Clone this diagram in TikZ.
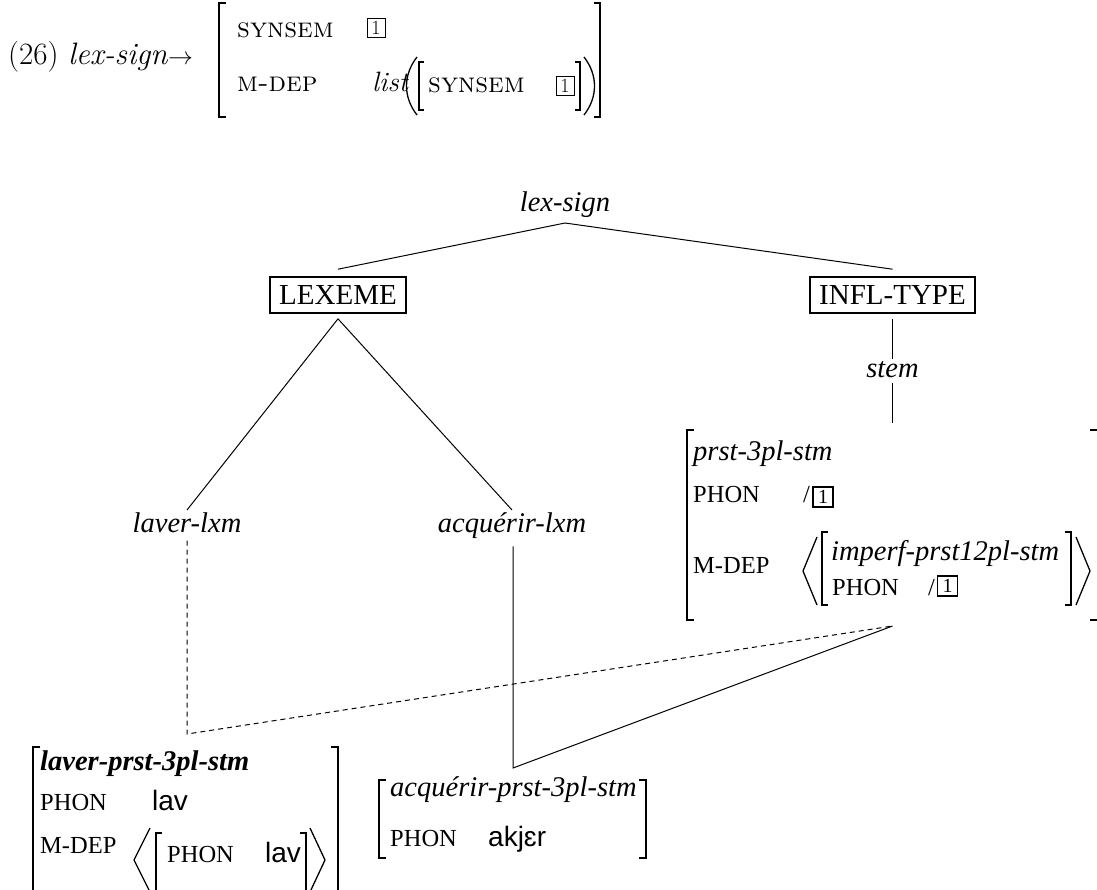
\documentclass[tikz,border=0pt]{standalone}
\usepackage{fontspec}
\newfontfamily\tms{Liberation Serif}
\newfontfamily\sns{Liberation Sans}
\usetikzlibrary{calc}
\tikzset{
  hd/.style={inner sep=0pt, font=\fontsize{28}{32}\selectfont},
  hdl/.style={inner sep=0pt, font=\fontsize{31}{34}\selectfont},
  lbl/.style={inner sep=2pt, font=\tms\fontsize{28.5}{32}\selectfont\itshape},
  typbox/.style={draw, line width=1.6pt, inner xsep=9pt, minimum height=36pt, text height=19pt, text depth=0pt, font=\tms\fontsize{29}{32}\selectfont},
  avmi/.style={inner sep=0pt, font=\tms\fontsize{28.5}{32}\selectfont\itshape},
  avmb/.style={inner sep=0pt, font=\tms\fontsize{28.5}{32}\selectfont\bfseries\itshape},
  feat/.style={inner sep=0pt, font=\tms\fontsize{24.5}{28}\selectfont},
  phon/.style={inner sep=0pt, font=\sns\fontsize{28}{32}\selectfont},
  tagt/.style={draw, line width=1.5pt, minimum width=20pt, minimum height=20pt, inner sep=0pt, font=\tms\fontsize{20}{22}\selectfont},
  tagh/.style={draw, line width=0.8pt, minimum width=18pt, minimum height=19pt, inner sep=0pt, font=\fontsize{20}{22}\selectfont},
  brk/.style={line width=1.3pt},
  conn/.style={line width=1pt},
  dconn/.style={line width=1pt, dash pattern=on 5pt off 4pt},
}
\begin{document}
\begin{tikzpicture}[x=1pt,y=-1pt]
\useasboundingbox[fill=white] (0,0) rectangle (1097,889);
% ---------- header (26)
\node[hdl, anchor=base west] (num) at (8,64) {(26)};
\node[hdl, anchor=base west] (ls) at (68,64) {\textit{lex-sign}$\rightarrow$};
\draw[brk] (226,3) -- (219,3) -- (219,117) -- (226,117);
\node[hd, anchor=base west] (syn1) at (237,37) {\textsc{synsem}};
\node[tagh] (t1) at (376,27.5) {1};
\node[hd, anchor=base west] (md1) at (237,91) {\textsc{m-dep}};
\node[hd, anchor=base west] (lst) at (372,91) {\textit{list}};
\draw[brk] (417,57) .. controls (403,75) and (403,97) .. (417,115);
\draw[brk] (424,62) -- (419,62) -- (419,110) -- (424,110);
\node[hd, anchor=base west] (syn2) at (428,92) {\textsc{synsem}};
\node[tagh] (t2) at (565,86) {1};
\draw[brk] (575,62) -- (580,62) -- (580,110) -- (575,110);
\draw[brk] (584,57) .. controls (598,75) and (598,97) .. (584,115);
\draw[brk] (594,3) -- (600,3) -- (600,117) -- (594,117);
% ---------- tree
\node[lbl, anchor=base] (lexsign) at (565,211) {lex-sign};
\node[typbox] (lexeme) at (338,295) {LEXEME};
\node[typbox] (infl) at (892.5,295) {INFL-TYPE};
\coordinate (apex) at (565,223);
\draw[conn] (apex) -- ($(lexeme.north)+(0,-7)$);
\draw[conn] (apex) -- ($(infl.north)+(0,-7)$);
\node[lbl, anchor=base] (laver) at (187,532) {laver-lxm};
\node[lbl, anchor=base] (acq) at (512,532) {acquérir-lxm};
\draw[conn] ($(lexeme.south)+(0,5)$) -- (laver.north);
\draw[conn] ($(lexeme.south)+(0,5)$) -- (acq.north);
\node[lbl, anchor=base] (stem) at (892.5,377) {stem};
\draw[conn] ($(infl.south)+(0,5)$) -- (stem.north);
\coordinate (rtop) at (892.5,423);
\coordinate (rbot) at (892.5,626);
\draw[conn] ($(stem.south)+(0,4)$) -- (rtop);
% ---------- right AVM
\draw[brk] (694,430) -- (687,430) -- (687,620) -- (694,620);
\node[avmi, anchor=base west] (r1) at (693,460) {prst-3pl-stm};
\node[feat, anchor=base west] (r2) at (693,502) {PHON};
\node[feat, anchor=base west] (r2s) at (803,502) {/};
\node[tagt] (r2t) at (823,497) {1};
\node[feat, anchor=base west] (r3) at (693,573) {M-DEP};
\draw[brk] (817,537) -- (803,571) -- (817,605);
\draw[brk] (828,532) -- (822,532) -- (822,605) -- (828,605);
\node[avmi, anchor=base west] (r4) at (831,560) {imperf-prst12pl-stm};
\node[feat, anchor=base west] (r5) at (832,595) {PHON};
\node[feat, anchor=base west] (r5s) at (928,595) {/};
\node[tagt] (r5t) at (947.5,586) {1};
\draw[brk] (1065,532) -- (1071,532) -- (1071,605) -- (1065,605);
\draw[brk] (1076,537) -- (1090,571) -- (1076,605);
\draw[brk] (1090,430) -- (1098,430) -- (1098,620) -- (1090,620);
% ---------- left AVM
\draw[brk] (40,747) -- (33,747) -- (33,895);
\node[avmb, anchor=base west] (l1) at (40,770) {laver-prst-3pl-stm};
\node[feat, anchor=base west] (l2) at (40,810) {PHON};
\node[phon, anchor=base west] (l2v) at (152,810) {lav};
\node[feat, anchor=base west] (l3) at (40,853) {M-DEP};
\draw[brk] (150,828) -- (134,860) -- (150,892);
\draw[brk] (162,833) -- (156,833) -- (156,895);
\node[feat, anchor=base west] (l4) at (167,862) {PHON};
\node[phon, anchor=base west] (l4v) at (265,862) {lav};
\draw[brk] (300,833) -- (306,833) -- (306,895);
\draw[brk] (310,828) -- (325,860) -- (310,892);
\draw[brk] (331,747) -- (338,747) -- (338,895);
% ---------- middle AVM
\draw[brk] (386,780) -- (379,780) -- (379,858) -- (386,858);
\node[avmi, anchor=base west] (m1) at (390,796) {acquérir-prst-3pl-stm};
\node[feat, anchor=base west] (m2) at (390,846) {PHON};
\node[phon, anchor=base west] (m2v) at (488,846) {akjɛr};
\draw[brk] (639,780) -- (646,780) -- (646,858) -- (639,858);
% ---------- connectors to bottom AVMs
\coordinate (dc) at (187,734);
\coordinate (sc) at (513,768);
\draw[dconn] ($(laver.south -| dc)+(0,6)$) -- (dc) -- (rbot);
\draw[conn] ($(acq.south -| sc)+(0,6)$) -- (sc) -- (rbot);
\end{tikzpicture}
\end{document}
